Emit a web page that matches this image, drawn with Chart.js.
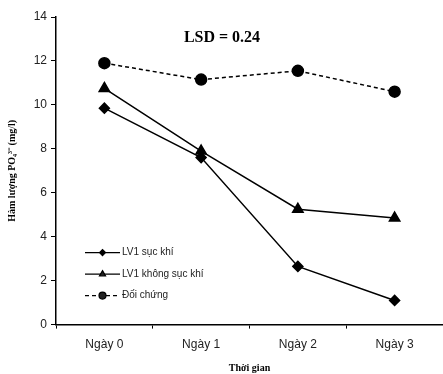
<!DOCTYPE html>
<html>
<head>
<meta charset="utf-8">
<script src="https://cdn.jsdelivr.net/npm/chart.js@4"></script>
<style>
  html, body { margin: 0; padding: 0; background: #fff; }
  #wrap { width: 443px; height: 374px; }
</style>
</head>
<body>
<div id="wrap"><canvas id="myChart" width="443" height="374"></canvas></div>
<script>
(function(){
const labels = ['Ngày 0', 'Ngày 1', 'Ngày 2', 'Ngày 3'];
const sucKhi = [9.85, 7.6, 2.65, 1.1];
const khongSucKhi = [10.75, 7.9, 5.25, 4.85];
const doiChung = [11.9, 11.15, 11.55, 10.6];
const yTicks = [0, 2, 4, 6, 8, 10, 12, 14];

const datasets = [{
  label: 'LV1 sục khí',
  data: sucKhi,
  borderColor: '#000',
  backgroundColor: '#000',
  borderWidth: 1.5,
  pointStyle: 'rectRot',
  pointRadius: 5,
  legendRadius: 3,
}, {
  label: 'LV1 không sục khí',
  data: khongSucKhi,
  borderColor: '#000',
  backgroundColor: '#000',
  borderWidth: 1.5,
  pointStyle: 'triangle',
  pointRadius: 6,
  legendRadius: 3.5,
}, {
  label: 'Đối chứng',
  data: doiChung,
  borderColor: '#000',
  backgroundColor: '#000',
  borderWidth: 1.5,
  borderDash: [4, 3],
  pointStyle: 'circle',
  pointRadius: 5.5,
  legendRadius: 3.5,
}];

// legend inside the plot, bottom-left, plus the LSD note
const extras = {
  id: 'extras',
  afterDraw(chart) {
    const ctx = chart.ctx;
    const a = chart.chartArea;
    ctx.save();
    chart.data.datasets.forEach((d, i) => {
      const y = a.bottom - 72 + i * 21.5;
      const x0 = a.left + 29, x1 = a.left + 64;
      ctx.strokeStyle = '#000';
      ctx.lineWidth = 1.2;
      ctx.setLineDash(d.borderDash || []);
      ctx.beginPath();
      ctx.moveTo(x0, y);
      ctx.lineTo(x1, y);
      ctx.stroke();
      ctx.setLineDash([]);
      Chart.helpers.drawPoint(ctx, {
        pointStyle: d.pointStyle, radius: d.legendRadius, rotation: 0, borderWidth: 1
      }, (x0 + x1) / 2, y);
      ctx.fillStyle = '#222';
      ctx.font = '10px "Liberation Sans", Arial, sans-serif';
      ctx.textBaseline = 'middle';
      ctx.textAlign = 'left';
      ctx.fillText(d.label, x1 + 2, y);
    });
    ctx.fillStyle = '#000';
    ctx.font = 'bold 16px "Liberation Serif", "Times New Roman", serif';
    ctx.textAlign = 'center';
    ctx.textBaseline = 'middle';
    ctx.fillText('LSD = 0.24', a.left + 166, a.top + 21);
    ctx.restore();
  }
};

new Chart(document.getElementById('myChart'), {
  type: 'line',
  data: { labels, datasets },
  options: {
    responsive: false,
    animation: false,
    layout: { autoPadding: false, padding: { top: 17, right: -4, left: 6, bottom: 0 } },
    plugins: {
      legend: { display: false },
      tooltip: { enabled: false },
    },
    scales: {
      x: {
        offset: true,
        grid: { display: true, offset: true, drawOnChartArea: false, drawTicks: true, tickLength: 4, color: '#000', lineWidth: 1 },
        border: { display: true, color: '#000', width: 1.5 },
        ticks: { color: '#222', font: { family: '"Liberation Sans", Arial, sans-serif', size: 12 }, padding: 9 },
        title: { display: true, text: 'Thời gian', color: '#000', font: { family: '"Liberation Serif", "Times New Roman", serif', size: 10, weight: 'bold' }, padding: { top: 1, bottom: 0 } },
        afterFit: s => { s.paddingLeft = 0; s.paddingRight = 0; },
      },
      y: {
        min: 0,
        max: 14,
        afterBuildTicks: s => { s.ticks = yTicks.map(v => ({ value: v })); },
        grid: { display: true, drawOnChartArea: false, drawTicks: true, tickLength: 5, color: '#000', lineWidth: 1 },
        border: { display: true, color: '#000', width: 1.5 },
        ticks: { color: '#222', font: { family: '"Liberation Sans", Arial, sans-serif', size: 12 }, padding: 4 },
        title: { display: true, text: 'Hàm lượng PO₄³⁻ (mg/l)', color: '#000', font: { family: '"Liberation Serif", "Times New Roman", serif', size: 10, weight: 'bold' }, padding: { top: 0, bottom: 6 } },
        afterFit: s => { s.width = 50; },
      }
    }
  },
  plugins: [extras]
});
})();
</script>
</body>
</html>
